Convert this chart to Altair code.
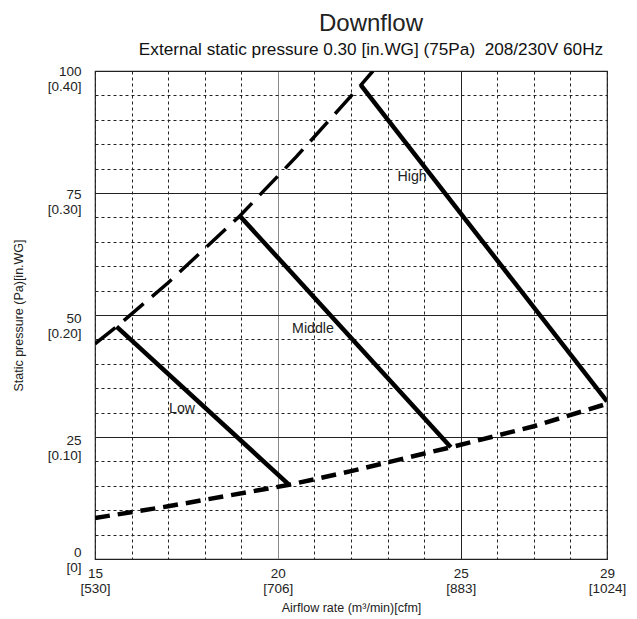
import altair as alt
import pandas as pd

FONT = "Liberation Sans"

# ---- data ----
x_tick_vals = [15, 20, 25, 29]
x_tick_cfm = ["530", "706", "883", "1024"]
y_tick_vals = [0, 25, 50, 75, 100]
y_tick_inwg = ["0", "0.10", "0.20", "0.30", "0.40"]

# upper (max static pressure) dashed curve
upper_x = [15.0, 15.59, 17.0, 18.96, 20.5, 22.27, 22.6]
upper_y = [44.1, 47.6, 56.6, 70.3, 82.4, 97.1, 100.0]
# lower (system) dashed curve
lower_x = [15.0, 17.0, 20.31, 22.0, 24.73, 27.0, 29.0]
lower_y = [8.4, 10.8, 15.2, 18.0, 22.9, 27.2, 31.8]

fan_names = ["Low", "Middle", "High"]
fan_x_start = [15.59, 18.96, 22.27]
fan_y_start = [47.6, 70.3, 97.1]
fan_x_end = [20.31, 24.73, 29.0]
fan_y_end = [15.2, 22.9, 32.3]

label_x = [17.38, 20.96, 23.67]
label_y = [30.7, 47.1, 78.3]

# ---- tables ----
upper_df = pd.DataFrame({"x": upper_x, "y": upper_y, "i": range(len(upper_x))})
lower_df = pd.DataFrame({"x": lower_x, "y": lower_y, "i": range(len(lower_x))})
fan_df = pd.DataFrame({"name": fan_names, "x": fan_x_start, "y": fan_y_start,
                       "x2": fan_x_end, "y2": fan_y_end})
lab_df = pd.DataFrame({"name": fan_names, "x": label_x, "y": label_y})

xexpr = " : ".join(
    f"datum.value == {v} ? ['{v}', '[{c}]']" for v, c in zip(x_tick_vals, x_tick_cfm)
) + " : ''"
yexpr = " : ".join(
    f"datum.value == {v} ? ['{v}', '[{c}]']" for v, c in zip(y_tick_vals, y_tick_inwg)
) + " : ''"

xscale = alt.Scale(domain=[15, 29], nice=False, zero=False)
yscale = alt.Scale(domain=[0, 100], nice=False)

xaxis = alt.Axis(
    values=list(range(15, 30)), tickCount=100, labelExpr=xexpr, grid=True,
    gridDash={"condition": {"test": "datum.value == 20 || datum.value == 25", "value": []}, "value": [3, 3]},
    gridColor={"condition": {"test": "datum.value == 20", "value": "#8a8a8a"}, "value": "#222222"},
    gridWidth=1, ticks=False, tickSize=0, domain=False, labelFlush=False, labelOverlap=False,
    labelPadding=7, labelBaseline="top", labelLineHeight=15, labelFontSize=13.5, labelFont=FONT,
    labelColor="#222222", title="Airflow rate (m³/min)[cfm]", titleFontSize=12.5,
    titleFontWeight="normal", titleFont=FONT, titleColor="#222222", titlePadding=7,
)
yaxis = alt.Axis(
    values=list(range(0, 101, 5)), tickCount=100, labelExpr=yexpr, grid=True,
    gridDash={"condition": {"test": "datum.value % 25 == 0", "value": []}, "value": [3, 3]},
    gridColor="#222222", gridWidth=1, ticks=False, tickSize=0, domain=False,
    labelFlush=False, labelOverlap=False, labelPadding=14, labelBaseline="middle",
    labelAlign="right", labelLineHeight=15,
    labelOffset={"condition": [{"test": "datum.value == 0", "value": -7},
                               {"test": "datum.value == 100", "value": 0},
                               {"test": "datum.value == 75", "value": 1}], "value": 3},
    labelFontSize=13.5, labelFont=FONT, labelColor="#222222",
    title="Static pressure (Pa)[in.WG]", titleFontSize=12.5, titleFontWeight="normal",
    titleFont=FONT, titleColor="#222222", titlePadding=22,
)

base_x = alt.X("x:Q", scale=xscale, axis=xaxis)
base_y = alt.Y("y:Q", scale=yscale, axis=yaxis)

upper = alt.Chart(upper_df).mark_line(
    color="black", strokeWidth=3.5, strokeDash=[26, 11], clip=True
).encode(x=base_x, y=base_y, order="i:Q")

lower = alt.Chart(lower_df).mark_line(
    color="black", strokeWidth=4.5, strokeDash=[15, 8], clip=True
).encode(x="x:Q", y="y:Q", order="i:Q")

fans = alt.Chart(fan_df).mark_rule(
    color="black", strokeWidth=4.5, clip=True
).encode(x="x:Q", y="y:Q", x2="x2:Q", y2="y2:Q")

labels = alt.Chart(lab_df).mark_text(
    font=FONT, fontSize=14.2, color="#222222", align="center", baseline="middle"
).encode(x="x:Q", y="y:Q", text="name:N")

chart = alt.layer(upper, lower, fans, labels).properties(
    width=512, height=488,
    autosize=alt.AutoSizeParams(type="none"),
    padding={"left": 87, "top": 63, "right": 22, "bottom": 56},
    title=alt.TitleParams(
        text="Downflow",
        subtitle="External static pressure 0.30 [in.WG] (75Pa)\u00a0 208/230V 60Hz",
        font=FONT, subtitleFont=FONT, fontSize=24, fontWeight="normal",
        subtitleFontSize=17.2, color="#222222", subtitleColor="#111111",
        anchor="middle", frame="group", dx=20, offset=6, subtitlePadding=5,
    ),
).configure_view(stroke="#222222", strokeWidth=1.2)

chart.save("out.html", embed_options={"renderer": "svg", "actions": False})
